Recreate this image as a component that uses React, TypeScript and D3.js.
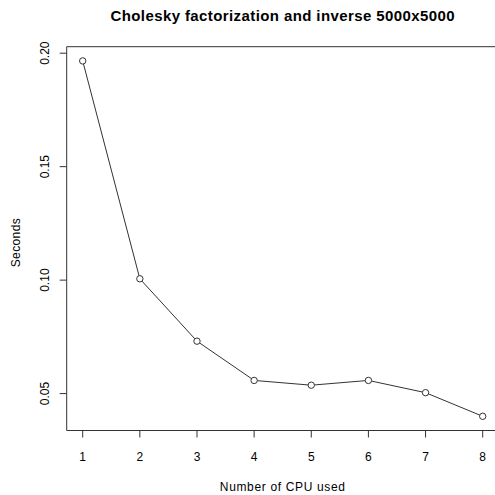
import React from "react";
import * as d3 from "d3";

const cpus = [1, 2, 3, 4, 5, 6, 7, 8];
const seconds = [0.1966, 0.1006, 0.0731, 0.0558, 0.0537, 0.0558, 0.0504, 0.0400];
const yTicks = [0.05, 0.1, 0.15, 0.2];
const title = "Cholesky factorization and inverse 5000x5000";
const xLabel = "Number of CPU used";
const yLabel = "Seconds";

export default function App() {
  const W = 495, H = 495;
  const left = 66.7, right = 498.7, top = 46.7, bottom = 430.5;
  const xmin = d3.min(cpus)!, xmax = d3.max(cpus)!;
  const ymin = d3.min(seconds)!, ymax = d3.max(seconds)!;
  const xpad = (xmax - xmin) * 0.04, ypad = (ymax - ymin) * 0.04;
  const x = d3.scaleLinear().domain([xmin - xpad, xmax + xpad]).range([left, right]);
  const y = d3.scaleLinear().domain([ymin - ypad, ymax + ypad]).range([bottom, top]);
  const line = d3.line<number>().x((_, i) => x(cpus[i])).y((d) => y(d));
  const font = "'Liberation Sans', Arial, Helvetica, sans-serif";
  const col = "#333";
  const yTickFmt = d3.format(".2f");
  const cx = (left + right) / 2;
  const cy = (top + bottom) / 2;
  return (
    <svg width={W} height={H} style={{ position: "absolute", left: 0, top: 0, background: "white" }}>
      <rect x={0} y={0} width={W} height={H} fill="white" />
      <text x={cx} y={21} textAnchor="middle" fontFamily={font} fontWeight="bold" fontSize={15} letterSpacing={0.4} fill="#000">
        {title}
      </text>
      <path d={`M${right},${top}H${left}V${bottom}H${right}`} fill="none" stroke={col} strokeWidth={1} />
      {cpus.map((c) => (
        <g key={c}>
          <line x1={x(c)} x2={x(c)} y1={bottom} y2={bottom + 7} stroke={col} />
          <text x={x(c)} y={461} textAnchor="middle" fontFamily={font} fontSize={12} fill="#000">
            {c}
          </text>
        </g>
      ))}
      {yTicks.map((t) => (
        <g key={t}>
          <line x1={left - 7} x2={left} y1={y(t)} y2={y(t)} stroke={col} />
          <text
            transform={`translate(${49},${y(t)}) rotate(-90)`}
            textAnchor="middle"
            fontFamily={font}
            fontSize={12}
            fill="#000"
          >
            {yTickFmt(t)}
          </text>
        </g>
      ))}
      <text x={cx} y={491} textAnchor="middle" fontFamily={font} fontSize={12} letterSpacing={0.65} fill="#000">
        {xLabel}
      </text>
      <text transform={`translate(${20},${cy + 4}) rotate(-90)`} textAnchor="middle" fontFamily={font} fontSize={12} letterSpacing={0.4} fill="#000">
        {yLabel}
      </text>
      <path d={line(seconds) || ""} fill="none" stroke={col} strokeWidth={1} />
      {seconds.map((s, i) => (
        <circle key={i} cx={x(cpus[i])} cy={y(s)} r={3.2} fill="white" stroke={col} strokeWidth={1} />
      ))}
    </svg>
  );
}
